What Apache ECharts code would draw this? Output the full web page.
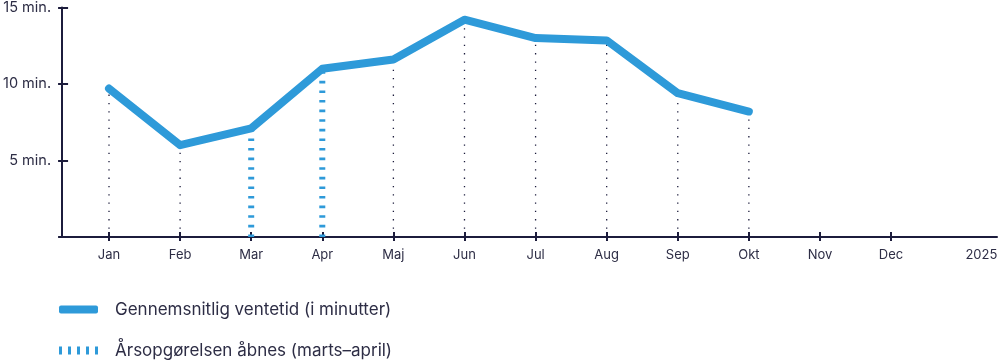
<!DOCTYPE html>
<html>
<head>
<meta charset="utf-8">
<script src="https://cdn.jsdelivr.net/npm/echarts@6/dist/echarts.min.js"></script>
<style>html,body{margin:0;padding:0;background:#fff}#c{width:1002px;height:361px}</style>
</head>
<body>
<div id="c"></div>
<script>
var tickLabels = ['Jan','Feb','Mar','Apr','Maj','Jun','Jul','Aug','Sep','Okt','Nov','Dec','2025'];
var months = ['Jan','Feb','Mar','Apr','Maj','Jun','Jul','Aug','Sep','Okt'];
var waitMinutes = [9.7, 6.0, 7.1, 11.0, 11.6, 14.2, 13.0, 12.85, 9.4, 8.2];
var highlightMonths = ['Mar','Apr'];
var lineName = 'Gennemsnitlig ventetid (i minutter)';
var periodName = 'Årsopgørelsen åbnes (marts–april)';

var navy = '#1c1c3c';
var blue = '#2e9ad9';
var textColor = '#2d2d45';
var font = 'Inter';

var lineData = months.map(function(m, i){ return [tickLabels.indexOf(m), waitMinutes[i]]; });
var dotData = lineData.filter(function(d, i){ return highlightMonths.indexOf(months[i]) < 0; });
var dashData = lineData.filter(function(d, i){ return highlightMonths.indexOf(months[i]) >= 0; });
var monthTickIdx = tickLabels.slice(0, 12).map(function(t, i){ return i; });
var labelIdx = tickLabels.map(function(t, i){ return i; });

function dropRenderer(style){
  return function(params, api){
    var x = api.value(0), v = api.value(1);
    var p0 = api.coord([x, 0]), p1 = api.coord([x, v]);
    return {type:'line', shape:{x1:p0[0], y1:p0[1], x2:p1[0], y2:p1[1]}, style: style};
  };
}

var xMin = -0.66, xMax = 12.49;
var chart = echarts.init(document.getElementById('c'));
chart.setOption({
  animation: false,
  grid: {left: 61, right: 5, top: 6, bottom: 124, containLabel: false},
  xAxis: [{
    type: 'value', min: xMin, max: xMax,
    splitLine: {show: false},
    axisLine: {show: true, onZero: false, lineStyle: {color: navy, width: 2}},
    axisTick: {show: true, customValues: monthTickIdx, length: 4, lineStyle: {color: navy, width: 2}},
    axisLabel: {
      customValues: labelIdx.slice(0, 12).concat([xMax - 0.22]),
      formatter: function(v){ var i = Math.round(v); return tickLabels[Math.min(i, 12)]; },
      color: textColor, fontFamily: font, fontSize: 13, margin: 12
    }
  },{
    type: 'value', min: xMin, max: xMax, position: 'bottom',
    splitLine: {show: false}, axisLine: {show: false, onZero: false},
    axisTick: {show: true, inside: true, customValues: monthTickIdx, length: 5, lineStyle: {color: navy, width: 2}},
    axisLabel: {show: false}
  }],
  yAxis: [{
    type: 'value', min: 0, max: 15, interval: 5,
    splitLine: {show: false},
    axisLine: {show: true, onZero: false, lineStyle: {color: navy, width: 2}},
    axisTick: {show: true, length: 4, lineStyle: {color: navy, width: 2}},
    axisLabel: {
      formatter: function(v){ return v === 0 ? '' : v + ' min.'; },
      color: textColor, fontFamily: font, fontSize: 14.5, margin: 11
    }
  },{
    type: 'value', min: 0, max: 15, interval: 5, position: 'left',
    splitLine: {show: false}, axisLine: {show: false, onZero: false},
    axisTick: {show: true, inside: true, length: 6, lineStyle: {color: navy, width: 2}},
    axisLabel: {show: false}
  }],
  legend: {
    orient: 'vertical', left: 59, top: 301, height: 60, padding: 0,
    itemWidth: 39, itemHeight: 8, itemGap: 24,
    textStyle: {color: textColor, fontFamily: font, fontSize: 17, padding: [0, 0, 0, 12]},
    data: [
      {name: lineName, icon: 'roundRect'},
      {name: periodName, icon: 'path://M0,0h3v8h-3zM9,0h3v8h-3zM18,0h3v8h-3zM27,0h3v8h-3zM36,0h3v8h-3z'}
    ],
    selectedMode: false
  },
  series: [{
    type: 'custom', name: 'dots', silent: true,
    renderItem: dropRenderer({stroke: navy, lineWidth: 1.3, lineDash: [1.3, 7]}),
    data: dotData, z: 1
  },{
    type: 'custom', name: periodName, silent: true,
    itemStyle: {color: blue},
    renderItem: dropRenderer({stroke: blue, lineWidth: 6, lineDash: [2.6, 7]}),
    data: dashData, z: 1
  },{
    type: 'line', name: lineName, data: lineData,
    showSymbol: false, symbol: 'none',
    lineStyle: {color: blue, width: 8, cap: 'round', join: 'round'},
    itemStyle: {color: blue},
    z: 5
  }]
});
</script>
</body>
</html>
